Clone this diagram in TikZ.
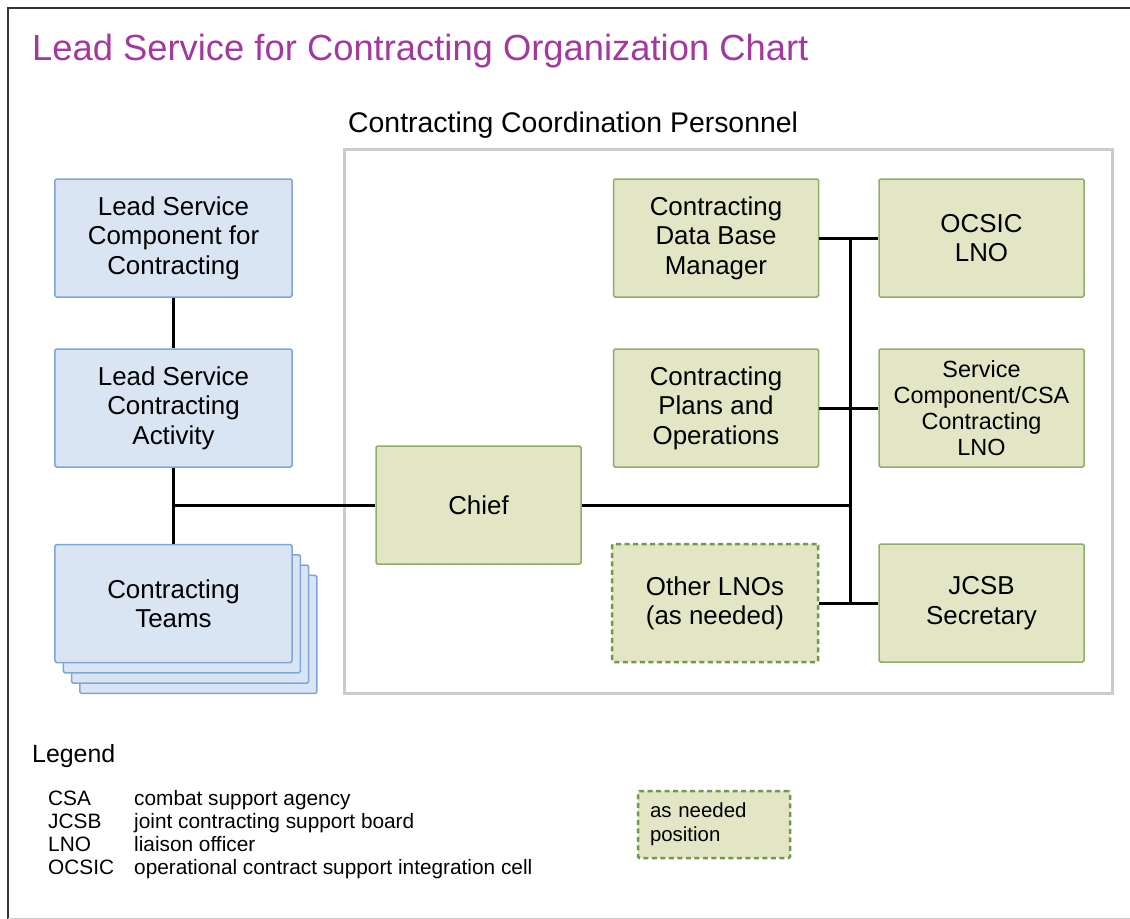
\documentclass[tikz,border=0pt]{standalone}
\usepackage{fontspec}
\setmainfont{Liberation Sans}
\usetikzlibrary{calc, positioning}

\definecolor{titlepurple}{RGB}{163,57,159}
\definecolor{bluefill}{RGB}{218,229,243}
\definecolor{blueline}{RGB}{126,166,216}
\definecolor{greenfill}{RGB}{227,230,196}
\definecolor{greenline}{RGB}{143,174,108}
\definecolor{dashgreen}{RGB}{110,154,74}
\definecolor{panelgray}{RGB}{204,204,204}

\begin{document}
\begin{tikzpicture}[x=1bp, y=-1bp,
    bluebox/.style={draw=blueline, fill=bluefill, line width=1.5bp, rounded corners=1.5bp, minimum width=237bp, minimum height=118bp, inner sep=0pt, align=center, font=\fontsize{26}{29.5}\selectfont},
    greenbox/.style={draw=greenline, fill=greenfill, line width=1.5bp, rounded corners=1.5bp, minimum width=205bp, minimum height=118bp, inner sep=0pt, align=center, font=\fontsize{26}{29.5}\selectfont},
    asneeded/.style={greenbox, draw=dashgreen, line width=2.5bp, dash pattern=on 5bp off 3.5bp},
    link/.style={line width=3bp},
    abbr/.style={anchor=base west, inner sep=0pt, font=\fontsize{20.9}{23}\selectfont}]

            \useasboundingbox (0,0) rectangle (1130,919);
            \draw[black!80, line width=2bp] (8,919) -- (8,8) -- (1130,8);
            \draw[black!20, line width=1bp] (8,918) -- (1130,918);

            \node[anchor=base west, inner sep=0pt, text=titlepurple, font=\fontsize{36.5}{40}\selectfont] (title) at (32,60) {Lead Service for Contracting Organization Chart};
            \node[anchor=base west, inner sep=0pt, font=\fontsize{28.5}{32}\selectfont] (ccplabel) at (348,132) {Contracting Coordination Personnel};
            \node[draw=panelgray, line width=3bp, minimum width=767bp, minimum height=543bp, inner sep=0pt] (ccp) at (728.5,421.5) {};


            % Left column
            \node[bluebox] (lsc) at (173.5,238) {Lead Service\\Component for\\Contracting};
            \node[bluebox] (lsca) at (173.5,408) {Lead Service\\Contracting\\Activity};
            \foreach \i in {3,2,1}
                \node[bluebox] (teams\i) at (173.5+8.3*\i,603.5+10.3*\i) {};
            \node[bluebox] (teams) at (173.5,603.5) {Contracting\\Teams};


            % Coordination personnel
            \node[greenbox] (chief) at (478.5,505) {Chief};
            \node[greenbox] (dbm) at (716,238) {Contracting\\Data Base\\Manager};
            \node[greenbox] (plans) at (716,408) {Contracting\\Plans and\\Operations};
            \node[asneeded, minimum width=206bp] (other) at (715,603) {Other LNOs\\(as needed)};
            \node[greenbox] (ocsic) at (981.5,238) {OCSIC\\LNO};
            \node[greenbox, font=\fontsize{23.5}{26.3}\selectfont] (svc) at (981.5,408) {Service\\Component/CSA\\Contracting\\LNO};
            \node[greenbox] (jcsb) at (981.5,603) {JCSB\\Secretary};

            \coordinate (bustop) at (850,238);
            \coordinate (busbot) at (850,603);


            % Connections
            \draw[link] (lsc) -- (lsca);
            \draw[link] (lsca) -- (teams);
            \draw[link] (chief.west) -- (chief.west -| lsca);
            \draw[link] (bustop) -- (busbot);
            \draw[link] (chief.east) -- (chief.east -| bustop);
            \draw[link] (dbm) -- (ocsic);
            \draw[link] (plans) -- (svc);
            \draw[link] (other) -- (jcsb);


            % Legend
            \node[anchor=base west, inner sep=0pt, font=\fontsize{25}{28}\selectfont] (legend) at (32,762) {Legend};
            \foreach \ab/\txt [count=\i] in {CSA/combat support agency, JCSB/joint contracting support board, LNO/liaison officer, OCSIC/operational contract support integration cell} {
                \node[abbr] (ab\i) at (48,782+23*\i) {\ab};
                \node[abbr] (df\i) at (134,782+23*\i) {\txt};
            }
            \node[asneeded, minimum width=152bp, minimum height=67bp, text width=128bp, align=left, font=\fontsize{20.5}{24}\selectfont] (key) at (714,824.5) {as needed\\position};

        \end{tikzpicture}
\end{document}
